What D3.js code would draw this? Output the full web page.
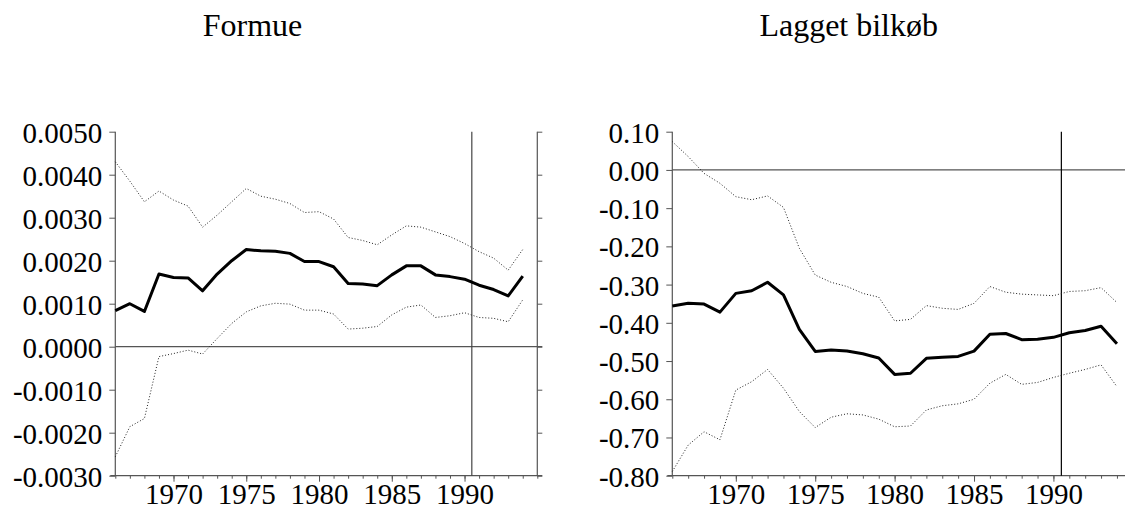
<!DOCTYPE html>
<html>
<head>
<meta charset="utf-8">
<script src="https://cdn.jsdelivr.net/npm/d3@7"></script>
<style>
  html, body { margin: 0; padding: 0; background: #fff; }
  svg { display: block; }
  svg text { font-family: "Liberation Serif", "Times New Roman", Times, serif !important; }
</style>
</head>
<body>
<svg id="chart" width="1125" height="508"></svg>
<script>
// ---------- DATA ----------
const years = [1966,1967,1968,1969,1970,1971,1972,1973,1974,1975,1976,1977,1978,1979,1980,
               1981,1982,1983,1984,1985,1986,1987,1988,1989,1990,1991,1992,1993,1994];

const formueMain  = [0.00084,0.00100,0.00082,0.00169,0.00161,0.00160,0.00130,0.00169,0.00200,0.00226,
                     0.00223,0.00222,0.00217,0.00198,0.00198,0.00186,0.00147,0.00146,0.00142,0.00167,
                     0.00188,0.00188,0.00167,0.00163,0.00157,0.00143,0.00133,0.00118,0.00164];
const formueUpper = [0.00430,0.00385,0.00337,0.00362,0.00341,0.00327,0.00278,0.00306,0.00337,0.00368,
                     0.00350,0.00343,0.00333,0.00312,0.00314,0.00297,0.00254,0.00247,0.00237,0.00260,
                     0.00281,0.00278,0.00267,0.00256,0.00240,0.00221,0.00206,0.00178,0.00226];
const formueLower = [-0.00256,-0.00186,-0.00167,-0.00023,-0.00016,-0.00008,-0.00017,0.00019,0.00054,0.00081,
                     0.00095,0.00101,0.00099,0.00085,0.00085,0.00076,0.00041,0.00043,0.00047,0.00074,
                     0.00092,0.00097,0.00068,0.00072,0.00079,0.00068,0.00066,0.00058,0.00109];

const bilMain  = [-0.356,-0.349,-0.351,-0.372,-0.323,-0.316,-0.294,-0.327,-0.417,-0.475,
                  -0.471,-0.474,-0.481,-0.492,-0.535,-0.532,-0.493,-0.490,-0.488,-0.474,
                  -0.430,-0.428,-0.444,-0.443,-0.438,-0.426,-0.420,-0.409,-0.455];
const bilUpper = [0.074,0.035,-0.009,-0.035,-0.070,-0.078,-0.068,-0.098,-0.205,-0.275,
                  -0.294,-0.305,-0.323,-0.333,-0.395,-0.391,-0.355,-0.362,-0.365,-0.349,
                  -0.305,-0.320,-0.325,-0.327,-0.329,-0.318,-0.316,-0.308,-0.347];
const bilLower = [-0.789,-0.720,-0.685,-0.706,-0.576,-0.554,-0.522,-0.571,-0.632,-0.674,
                  -0.647,-0.638,-0.641,-0.652,-0.672,-0.670,-0.628,-0.617,-0.612,-0.600,
                  -0.558,-0.535,-0.561,-0.556,-0.543,-0.532,-0.522,-0.510,-0.567];

const xMajorTicks = [1970,1975,1980,1985,1990];
const formueTicks = [0.005,0.004,0.003,0.002,0.001,0,-0.001,-0.002,-0.003];
const bilTicks = [0.1,0,-0.1,-0.2,-0.3,-0.4,-0.5,-0.6,-0.7,-0.8];
const titles = ["Formue", "Lagget bilkøb"];
const splitYear = 1990.5;

// ---------- DRAW ----------
const svg = d3.select("#chart");
const axisColor = "#555";
const serif = '"Liberation Serif", "Times New Roman", Times, serif';

function panel(opt) {
  const x = d3.scaleLinear().domain([1966, 1995]).range([opt.left, opt.right]);
  const y = d3.scaleLinear().domain(opt.yDomain).range([475.7, 131.7]);
  const g = svg.append("g");
  const x0 = x.range()[0], x1 = x.range()[1];
  const yb = y.range()[0], yt = y.range()[1];

  // y axis (left)
  const ya = g.append("g").attr("transform", `translate(${x0},0)`)
    .call(d3.axisLeft(y).tickValues(opt.yTicks).tickSize(6).tickSizeOuter(0).tickPadding(7)
      .tickFormat(d => opt.fmt(d).replace("\u2212", "-")));
  ya.attr("font-family", null).attr("font-size", null).style("font-family", serif);
  ya.select(".domain").remove();
  ya.selectAll(".tick line").attr("stroke", axisColor);
  ya.selectAll("text").style("font-size", "29px").attr("fill", "#000")
    .style("font-family", serif).attr("dy", "0.36em");
  g.append("line").attr("x1", x0).attr("x2", x0).attr("y1", yt).attr("y2", yb)
    .attr("stroke", axisColor).attr("stroke-width", 1.2);

  // right axis (only if visible)
  if (opt.rightAxis) {
    const ra = g.append("g").attr("transform", `translate(${x1},0)`)
      .call(d3.axisRight(y).tickValues(opt.yTicks).tickSize(5).tickSizeOuter(0).tickFormat(""));
    ra.select(".domain").remove();
    ra.selectAll(".tick line").attr("stroke", axisColor);
    g.append("line").attr("x1", x1).attr("x2", x1).attr("y1", yt).attr("y2", yb)
      .attr("stroke", axisColor).attr("stroke-width", 1.2);
  }

  // x axis minor ticks
  const xm = g.append("g").attr("transform", `translate(0,${yb})`)
    .call(d3.axisBottom(x).tickValues(d3.range(1966, 1996)).tickSize(3).tickSizeOuter(0).tickFormat(""));
  xm.select(".domain").remove();
  xm.selectAll(".tick line").attr("stroke", axisColor);
  // x axis major ticks + labels
  const xa = g.append("g").attr("transform", `translate(0,${yb})`)
    .call(d3.axisBottom(x).tickValues(xMajorTicks).tickSize(6).tickSizeOuter(0).tickPadding(2)
      .tickFormat(d3.format("d")));
  xa.attr("font-family", null).attr("font-size", null).style("font-family", serif);
  xa.select(".domain").remove();
  xa.selectAll(".tick line").attr("stroke", axisColor);
  xa.selectAll("text").style("font-size", "29px").attr("fill", "#000").style("font-family", serif);
  g.append("line").attr("x1", x0 - 5).attr("x2", x1 + 5).attr("y1", yb).attr("y2", yb)
    .attr("stroke", axisColor).attr("stroke-width", 1.2);

  // zero line
  g.append("line").attr("x1", x0).attr("x2", x1 + 5).attr("y1", y(0)).attr("y2", y(0))
    .attr("stroke", axisColor).attr("stroke-width", 1.2);

  // split vertical line
  g.append("line").attr("x1", x(splitYear)).attr("x2", x(splitYear)).attr("y1", yt).attr("y2", yb)
    .attr("stroke", opt.splitColor).attr("stroke-width", 1.2);

  const line = d3.line().x((d, i) => x(years[i])).y(d => y(d));
  [opt.upper, opt.lower].forEach(s => {
    g.append("path").datum(s).attr("d", line).attr("fill", "none")
      .attr("stroke", "#222").attr("stroke-width", 1).attr("stroke-dasharray", "1,2");
  });
  g.append("path").datum(opt.main).attr("d", line).attr("fill", "none")
    .attr("stroke", "#000").attr("stroke-width", 3).attr("stroke-linejoin", "round");

  svg.append("text").attr("x", opt.titleX).attr("y", 36).attr("text-anchor", "middle")
    .style("font-size", "32px").style("font-family", serif).attr("fill", "#000").text(opt.title);
}

panel({ left: 115.3, right: 537.3, yDomain: [-0.003, 0.005], yTicks: formueTicks,
        fmt: d3.format(".4f"), rightAxis: true, splitColor: "#444",
        main: formueMain, upper: formueUpper, lower: formueLower, title: titles[0], titleX: 252.5 });
panel({ left: 672.3, right: 672.3 + 29 * 15.88, yDomain: [-0.8, 0.1], yTicks: bilTicks,
        fmt: d3.format(".2f"), rightAxis: false, splitColor: "#000",
        main: bilMain, upper: bilUpper, lower: bilLower, title: titles[1], titleX: 848.7 });
</script>
</body>
</html>
